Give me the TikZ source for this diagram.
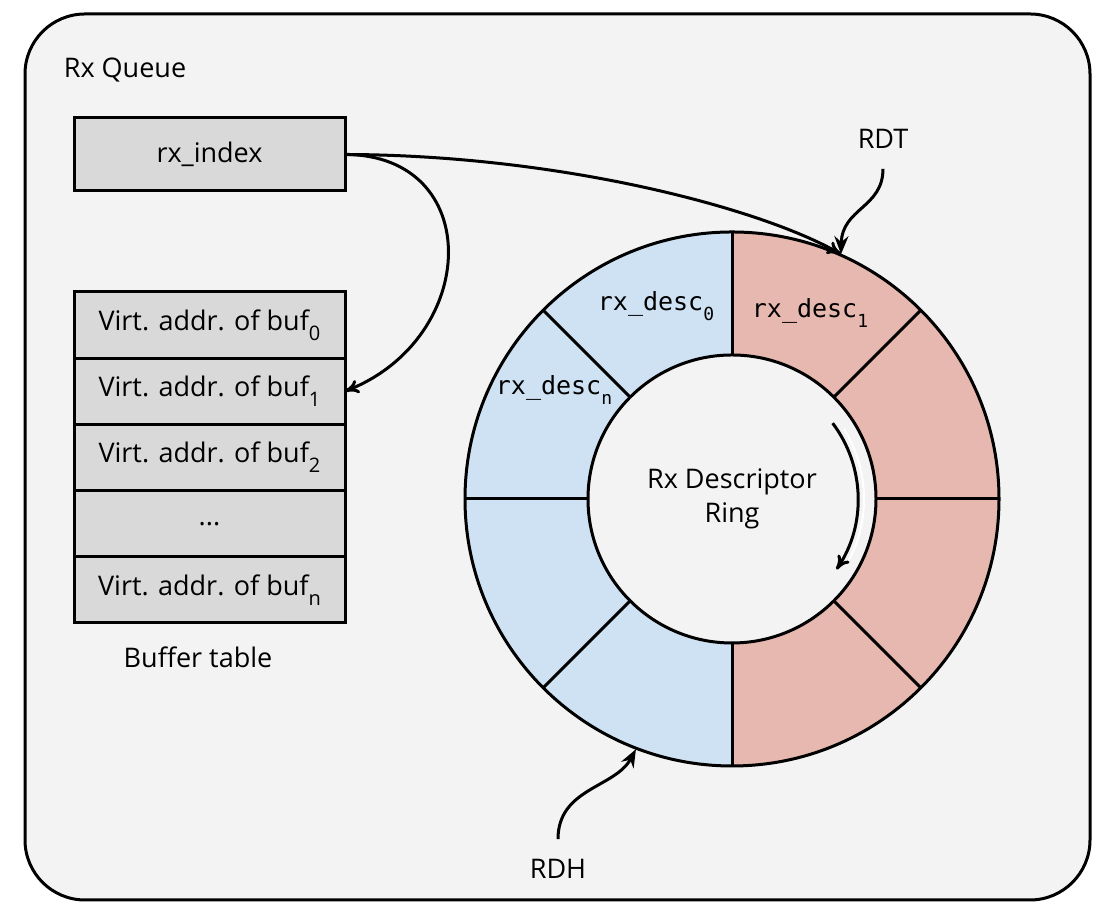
\documentclass[tikz,border=0pt]{standalone}
\usepackage{fontspec}
\setmainfont{Open Sans}
\newfontfamily\descfont{DejaVu Sans Mono}
\usetikzlibrary{positioning,arrows.meta}

\definecolor{queuebg}{HTML}{F3F3F3}
\definecolor{cellgray}{HTML}{D9D9D9}
\definecolor{descblue}{HTML}{CFE2F3}
\definecolor{descred}{HTML}{E6B8AF}

\newcommand{\lowsub}[2][10]{\raisebox{-5pt}{\fontsize{#1}{#1}\selectfont #2}}

\begin{document}
\begin{tikzpicture}
    [
    x = 0.5pt, y = 0.5pt,
    line width              = 1.5pt,
    every node/.style       = {font=\fontsize{13.5}{17}\selectfont},
    cell/.style             = {draw, fill=cellgray, minimum width=135.5pt,
                               minimum height=33.1pt, inner sep=0pt, outer sep=0pt},
    desc/.style             = {font=\descfont\fontsize{12.5}{15}\selectfont},
    pointer/.style          = {-{To[length=7pt,width=7pt]}},
    marker/.style           = {-{Stealth[length=9pt,width=7pt,inset=3pt]}, shorten <=6pt}
    ]
    \useasboundingbox (0,0) rectangle (1114,913);
    \draw [fill=queuebg, rounded corners=30pt] (25,13) rectangle (1090,899);
    \node (queue) at (125,843) {Rx Queue};

    % index and buffer table
    \node [cell, minimum height=36.5pt] (idx) at (209.5,758.5) {rx\_index};
    \node [cell, below=50.5pt of idx] (buf0) {Virt. addr. of buf\lowsub{0}};
    \node [cell, below=0pt of buf0] (buf1) {Virt. addr. of buf\lowsub{1}};
    \node [cell, below=0pt of buf1] (buf2) {Virt. addr. of buf\lowsub{2}};
    \node [cell, below=0pt of buf2] (dots) {...};
    \node [cell, below=0pt of dots] (bufn) {Virt. addr. of buf\lowsub{n}};
    \node (buftab) at (198,256) {Buffer table};

    % descriptor ring
    \coordinate (ctr) at (732,414);
    \fill [descred] (ctr) circle [radius=267];
    \fill [descblue] (ctr) -- ++(90:267) arc [start angle=90, end angle=270, radius=267] -- cycle;
    \draw (ctr) circle [radius=267];
    \foreach \a in {0,45,...,315}
        \draw (ctr) ++(\a:144) -- ++(\a:123);
    \draw [fill=queuebg] (ctr) circle [radius=144];
    \node [align=center] (ring) at (ctr) {Rx Descriptor\\Ring};
    \node [desc] (desc0) at (656,607) {rx\_desc\lowsub[9]{0}};
    \node [desc] (desc1) at (810,600) {rx\_desc\lowsub[9]{1}};
    \node [desc] (descn) at (554,523) {rx\_desc\lowsub[9]{n}};
    \path (ctr) ++(66:268) coordinate (rdtpt);
    \path (ctr) ++(249:268) coordinate (rdhpt);

    % direction of the ring
    \draw [white, line width=1pt] (ctr) ++(32:132) arc [start angle=32, end angle=-28, radius=132];
    \draw [pointer] (ctr) ++(37:126) arc [start angle=37, end angle=-34, radius=126];

    % pointers
    \node (rdt) at (883,774) {RDT};
    \node (rdh) at (558,44) {RDH};
    \draw [pointer] (idx.east) .. controls (560,758) and (760,705) .. (rdtpt);
    \draw [pointer] (idx.east) .. controls (485,758) and (480,575) .. (buf1.east);
    \draw [marker] (rdt.south) .. controls (883,705) and (842,705) .. (rdtpt);
    \draw [marker] (rdh.north) .. controls (558,125) and (615,125) .. (rdhpt);
\end{tikzpicture}
\end{document}
